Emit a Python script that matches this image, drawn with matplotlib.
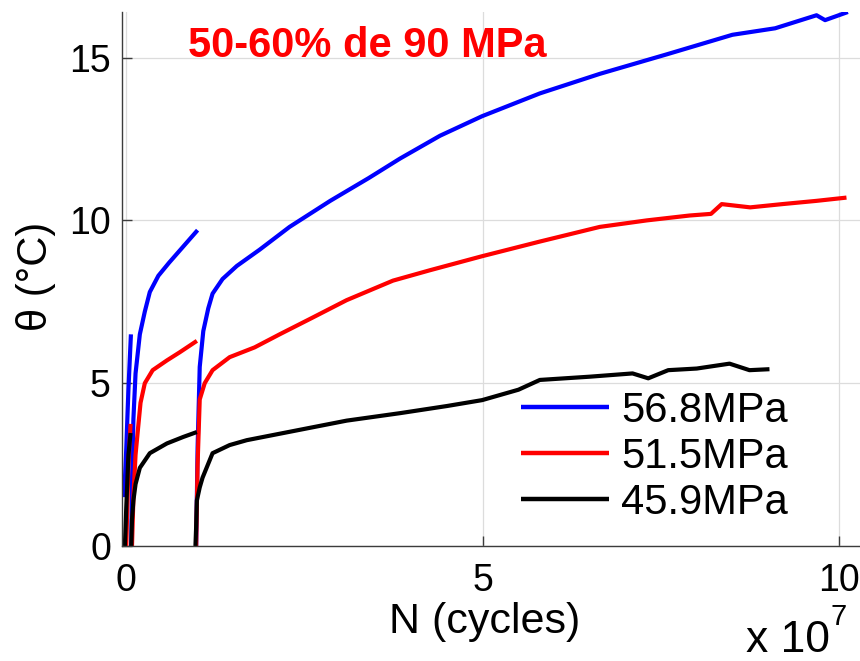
import matplotlib
matplotlib.use("Agg")
import matplotlib.pyplot as plt

# N in units of 1e7 cycles, theta in deg C
# three runs per stress level: short start, restart at ~0.07e7, restart at ~1e7
labels = ["56.8MPa", "51.5MPa", "45.9MPa"]
colors = ["#0000ff", "#ff0000", "#000000"]

blue_n1 = [-0.03, 0.0, 0.03, 0.065]
blue_t1 = [1.5, 3.0, 4.8, 6.5]
blue_n2 = [0.07, 0.08, 0.10, 0.13, 0.19, 0.26, 0.33, 0.45, 0.6, 0.8, 1.0]
blue_t2 = [0.0, 2.0, 3.9, 5.3, 6.5, 7.2, 7.8, 8.3, 8.7, 9.2, 9.7]
blue_n3 = [0.98, 1.0, 1.03, 1.08, 1.15, 1.21, 1.35, 1.55, 1.87, 2.29, 2.86,
           3.4, 3.84, 4.4, 4.99, 5.8, 6.64, 7.58, 8.5, 9.1, 9.68, 9.8, 10.12]
blue_t3 = [0.0, 3.0, 5.5, 6.6, 7.3, 7.75, 8.2, 8.6, 9.1, 9.8, 10.6,
           11.3, 11.9, 12.6, 13.2, 13.9, 14.5, 15.1, 15.7, 15.9, 16.3, 16.15, 16.4]

red_n1 = [0.0, 0.03, 0.06]
red_t1 = [0.0, 2.5, 3.75]
red_n2 = [0.08, 0.10, 0.13, 0.16, 0.20, 0.26, 0.37, 0.57, 0.75, 0.99]
red_t2 = [0.0, 1.5, 2.8, 3.5, 4.4, 5.0, 5.4, 5.7, 5.95, 6.3]
red_n3 = [0.98, 1.0, 1.03, 1.1, 1.21, 1.45, 1.8, 2.15, 2.6, 3.09, 3.74, 4.26,
          4.99, 5.8, 6.64, 7.3, 7.9, 8.2, 8.35, 8.75, 9.2, 9.68, 10.1]
red_t3 = [0.0, 2.5, 4.5, 5.0, 5.4, 5.8, 6.1, 6.5, 7.0, 7.55, 8.15, 8.47,
          8.9, 9.35, 9.8, 10.0, 10.15, 10.2, 10.5, 10.4, 10.5, 10.6, 10.7]

black_n1 = [-0.02, 0.0, 0.03, 0.06]
black_t1 = [0.0, 1.2, 2.8, 3.47]
black_n2 = [0.07, 0.08, 0.10, 0.13, 0.19, 0.33, 0.57, 0.8, 0.99]
black_t2 = [0.0, 0.8, 1.4, 1.9, 2.4, 2.85, 3.15, 3.35, 3.5]
black_n3 = [0.97, 0.98, 0.99, 1.03, 1.07, 1.21, 1.45, 1.69, 2.39, 3.09, 3.84,
            4.5, 4.99, 5.5, 5.8, 6.5, 7.1, 7.32, 7.6, 8.0, 8.46, 8.74, 9.02]
black_t3 = [0.0, 0.6, 1.4, 1.8, 2.1, 2.85, 3.1, 3.25, 3.55, 3.85, 4.08,
            4.3, 4.48, 4.8, 5.1, 5.2, 5.3, 5.15, 5.4, 5.45, 5.6, 5.4, 5.43]

runs = [
    [(blue_n1, blue_t1), (blue_n2, blue_t2), (blue_n3, blue_t3)],
    [(red_n1, red_t1), (red_n2, red_t2), (red_n3, red_t3)],
    [(black_n1, black_t1), (black_n2, black_t2), (black_n3, black_t3)],
]

plt.rcParams['font.family'] = ['Liberation Sans', 'DejaVu Sans']

fig = plt.figure(figsize=(8.6, 6.61), dpi=100)
W, H = 860.0, 661.0
ax = fig.add_axes([122 / W, 1 - 546 / H, (875 - 122) / W, (546 - 12) / H])

handles = []
for segs, c, lab in zip(runs, colors, labels):
    for i, (n, t) in enumerate(segs):
        ln, = ax.plot(n, t, color=c, lw=3.0, solid_capstyle='butt')
    handles.append(ln)

ax.set_xlim(-0.06, 10.5)
ax.set_ylim(0, 16.4)
ax.set_xticks([0, 5, 10])
ax.set_xticklabels(["0", "5", "10"])
ax.set_yticks([0, 5, 10, 15])
ax.grid(True, color='#dcdcdc', lw=0.9)
ax.set_axisbelow(True)
for s in ['top', 'right']:
    ax.spines[s].set_visible(False)
for s in ['left', 'bottom']:
    ax.spines[s].set_color('#3c3c3c')
    ax.spines[s].set_linewidth(1.0)
ax.tick_params(direction='in', length=7, width=1.0, color='#3c3c3c',
               labelsize=27)
ax.tick_params(axis='x', pad=12)
ax.tick_params(axis='y', pad=8)

fig.text(36 / W, 1 - 276 / H, "θ (°C)", rotation=90, fontsize=30,
         ha='center', va='center')
fig.text(485 / W, 1 - 622 / H, "N (cycles)", fontsize=31, ha='center', va='center')
fig.text(746 / W, 1 - 641 / H, "x 10", fontsize=32, ha='left', va='center')
fig.text(831 / W, 1 - 617 / H, "7", fontsize=21, ha='left', va='center')

fig.text(188 / W, 1 - 46 / H, "50-60% de 90 MPa", color='#ff0000',
         fontsize=30, fontweight='bold', ha='left', va='center')

leg = ax.legend(handles, labels, loc='upper left',
                bbox_to_anchor=(521 / W, 1 - 391 / H), bbox_transform=fig.transFigure,
                frameon=False, fontsize=30, handlelength=2.1, handletextpad=0.31,
                labelspacing=0.14, borderpad=0, borderaxespad=0)
for l in leg.get_lines():
    l.set_linewidth(3.2)

fig.savefig("out.png", dpi=100)
